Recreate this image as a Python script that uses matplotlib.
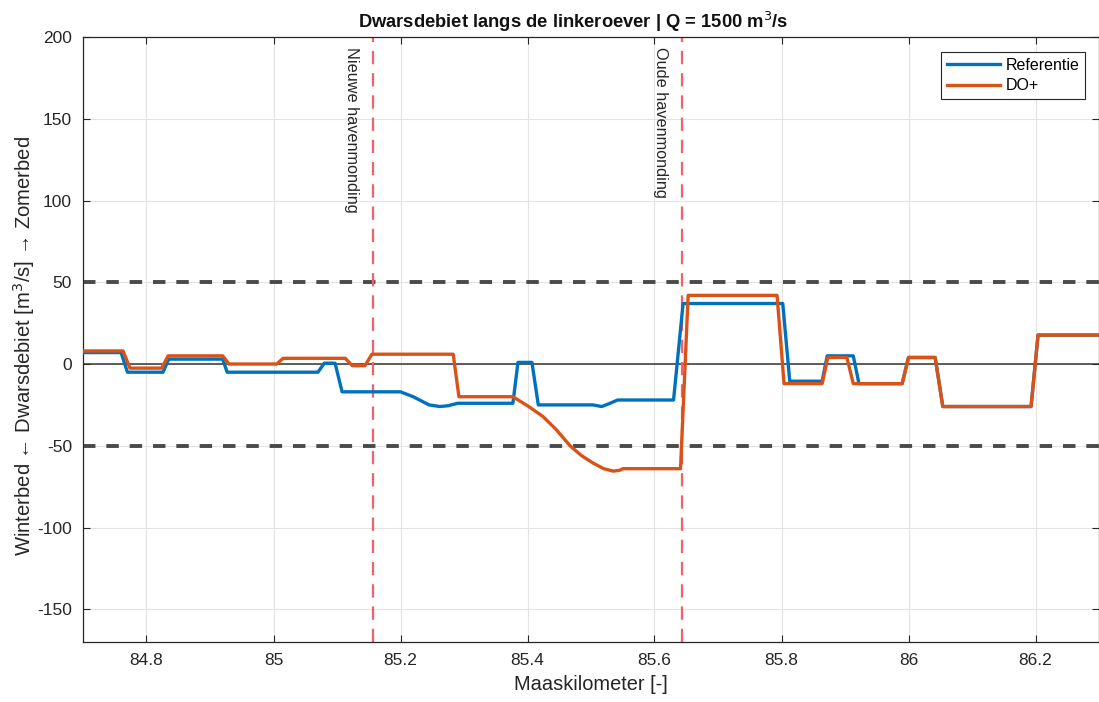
"""Dwarsdebiet langs de linkeroever, Q = 1500 m3/s."""
import matplotlib
matplotlib.use('Agg')
import matplotlib.pyplot as plt

plt.rcParams['font.family'] = ['Liberation Sans', 'DejaVu Sans']
plt.rcParams['axes.unicode_minus'] = False

# Referentie
km_ref = [84.70, 84.760, 84.770, 84.826, 84.835, 84.920, 84.927, 85.070, 85.080,
          85.097, 85.108, 85.200, 85.220, 85.245, 85.262, 85.275, 85.290, 85.377,
          85.385, 85.407, 85.417, 85.503, 85.517, 85.530, 85.542, 85.630, 85.645,
          85.802, 85.813, 85.864, 85.872, 85.913, 85.922, 85.990, 86.000, 86.042,
          86.054, 86.193, 86.204, 86.30]
q_ref = [7, 7, -5, -5, 3, 3, -5, -5, 0.5,
         0.5, -17, -17, -20, -25, -26, -25.5, -24, -24,
         1, 1, -25, -25, -26, -24, -22, -22, 37,
         37, -10.5, -10.5, 5, 5, -12, -12, 4, 4,
         -26, -26, 17.7, 17.7]

# DO+
km_do = [84.70, 84.763, 84.774, 84.824, 84.834, 84.920, 84.930, 85.005, 85.015,
         85.113, 85.124, 85.144, 85.155, 85.283, 85.292, 85.377, 85.400, 85.424,
         85.445, 85.467, 85.485, 85.503, 85.520, 85.535, 85.545, 85.550, 85.641,
         85.653, 85.793, 85.804, 85.864, 85.873, 85.903, 85.913, 85.990, 86.000,
         86.042, 86.054, 86.193, 86.204, 86.30]
q_do = [8, 8, -2.5, -2.5, 5, 5, 0, 0, 3.5,
        3.5, -1, -1, 6, 6, -20, -20, -25.5, -32,
        -40, -50, -56, -60.5, -64, -65.5, -65, -64, -64,
        42, 42, -12, -12, 4, 4, -12, -12, 4,
        4, -26, -26, 17.7, 17.7]

havens = [85.157, 85.643]
haven_labels = ['Nieuwe havenmonding', 'Oude havenmonding']
grens = [50, -50]

C_REF = '#0072BD'
C_DO = '#D95319'

fig = plt.figure(figsize=(10.99, 7.02), dpi=100)
ax = fig.add_axes([83 / 1099, 60 / 702, 1016 / 1099, 605 / 702])

ax.set_xlim(84.7, 86.3)
ax.set_ylim(-170, 200)
ax.set_xticks([84.8, 85.0, 85.2, 85.4, 85.6, 85.8, 86.0, 86.2])
ax.set_xticklabels(['84.8', '85', '85.2', '85.4', '85.6', '85.8', '86', '86.2'])
ax.set_yticks([-150, -100, -50, 0, 50, 100, 150, 200])
ax.grid(True, color='#E3E3E3', lw=0.8, zorder=0)
ax.tick_params(direction='in', length=5, labelsize=12.5, colors='#262626',
               top=True, right=True, pad=8)
for sp in ax.spines.values():
    sp.set_color('#262626')
    sp.set_linewidth(0.9)

ax.axhline(0, color='#333333', lw=1.1, zorder=2)
for g in grens:
    ax.axhline(g, color='#4A4A4A', lw=2.8, ls=(0, (3.2, 2.8)), zorder=2)

for xh, lab in zip(havens, haven_labels):
    ax.axvline(xh, color='#F2606A', lw=1.6, ls=(0, (6, 4)), zorder=2)
    ax.text(xh - 0.034, 194, lab, rotation=270, ha='center', va='top',
            fontsize=11.7, color='#262626', zorder=3)

ax.plot(km_ref, q_ref, color=C_REF, lw=2.4, label='Referentie', zorder=4)
ax.plot(km_do, q_do, color=C_DO, lw=2.4, label='DO+', zorder=5)

leg = ax.legend(loc='upper right', bbox_to_anchor=(0.986, 0.975), borderaxespad=0,
                fontsize=11.5, fancybox=False, framealpha=1, edgecolor='#262626',
                handlelength=3.3, handletextpad=0.35, borderpad=0.35,
                labelspacing=0.35)
leg.get_frame().set_linewidth(0.8)

# title centred as in the (right-cropped) original
fig.text(573 / 1099, 1 - 22 / 702, 'Dwarsdebiet langs de linkeroever | Q = 1500 m$^3$/s',
         ha='center', va='center', fontsize=13.2, fontweight='bold', color='#111111')
ax.set_xlabel('Maaskilometer [-]', fontsize=14.4, color='#262626', labelpad=5)
ax.set_ylabel('Winterbed \u2190 Dwarsdebiet [m$^3$/s] \u2192 Zomerbed', fontsize=14.6,
              color='#262626')
ax.yaxis.set_label_coords(-0.045, 0.49)

fig.savefig('out.png', dpi=100, facecolor='white')
